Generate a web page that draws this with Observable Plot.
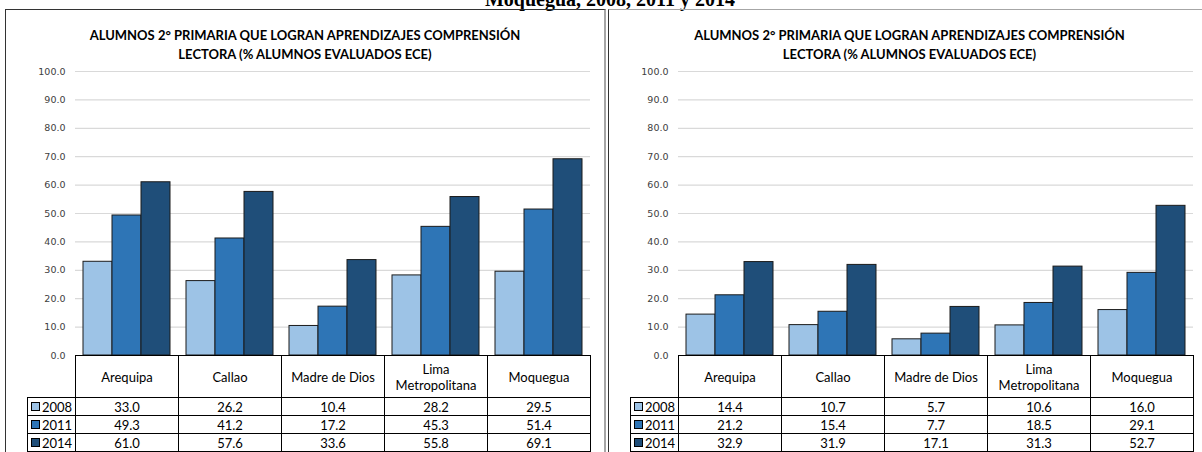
<!DOCTYPE html>
<html><head><meta charset="utf-8">
<script src="https://cdn.jsdelivr.net/npm/d3@7"></script>
<script src="https://cdn.jsdelivr.net/npm/@observablehq/plot@0.6"></script>
<style>
html,body{margin:0;padding:0;background:#fff;}
#root{position:relative;width:1202px;height:452px;overflow:hidden;background:#fff;}
.maintitle{position:absolute;left:0;width:1220px;top:-12px;line-height:20px;text-align:center;font:bold 20px "Liberation Serif",serif;color:#000;white-space:nowrap;}
.panel{position:absolute;top:9px;height:470px;box-sizing:border-box;}
.ptitle{position:absolute;left:0;right:0;top:16px;text-align:center;font:bold 13px Lato,sans-serif;line-height:19px;color:#000;}
.cell{position:absolute;box-sizing:border-box;border:1px solid #000;font:13px Lato,sans-serif;color:#000;display:flex;align-items:center;justify-content:center;text-align:center;white-space:pre-line;line-height:16px;background:#fff;}
.leg{justify-content:flex-start;padding-left:3px;}
.sw{display:inline-block;width:9px;height:9px;box-sizing:border-box;border:1px solid #000;margin-right:2px;}
.chart{position:absolute;}
</style></head>
<body><div id="root">
<div class="maintitle" id="mt"></div>
</div>
<script>
const categories = ["Arequipa", "Callao", "Madre de Dios", "Lima Metropolitana", "Moquegua"];
const categoryLabels = ["Arequipa", "Callao", "Madre de Dios", "Lima\nMetropolitana", "Moquegua"];
const years = ["2008", "2011", "2014"];
const colors = ["#9dc3e6", "#2e75b6", "#1f4e79"];
const yTicks = [0, 10, 20, 30, 40, 50, 60, 70, 80, 90, 100];
const titleLines = ["ALUMNOS 2° PRIMARIA QUE LOGRAN APRENDIZAJES COMPRENSIÓN", "LECTORA (% ALUMNOS EVALUADOS ECE)"];
const mainTitle = "Moquegua, 2008, 2011 y 2014";

// left panel
const left2008 = [33.0, 26.2, 10.4, 28.2, 29.5];
const left2011 = [49.3, 41.2, 17.2, 45.3, 51.4];
const left2014 = [61.0, 57.6, 33.6, 55.8, 69.1];
// right panel
const right2008 = [14.4, 10.7, 5.7, 10.6, 16.0];
const right2011 = [21.2, 15.4, 7.7, 18.5, 29.1];
const right2014 = [32.9, 31.9, 17.1, 31.3, 52.7];

const root = document.getElementById("root");
document.getElementById("mt").textContent = mainTitle;
const fmt = d3.format(".1f");

function addPanel(cfg) {
  const p = document.createElement("div");
  p.className = "panel";
  Object.assign(p.style, cfg.panelStyle);
  const t = document.createElement("div");
  t.className = "ptitle";
  t.innerHTML = titleLines.join("<br>");
  p.appendChild(t);
  root.appendChild(p);

  const series = [cfg.v2008, cfg.v2011, cfg.v2014];
  const rows = [];
  years.forEach((yr, i) => categories.forEach((c, j) => rows.push({cat: c, year: yr, value: series[i][j]})));

  const chart = Plot.plot({
    width: cfg.width,
    height: 305,
    marginTop: 11,
    marginBottom: 10,
    marginLeft: cfg.marginLeft,
    marginRight: cfg.marginRight,
    style: {fontFamily: "'DejaVu Sans', sans-serif", fontSize: "9.5px", color: "#404040", background: "transparent", overflow: "visible"},
    facet: {data: rows, x: "cat"},
    fx: {domain: categories, padding: 0, axis: null, label: null},
    x: {domain: years, paddingInner: 0, paddingOuter: 0.25, axis: null},
    y: {domain: [0, 100], ticks: yTicks, tickFormat: fmt, tickSize: 0, tickPadding: 10, label: null},
    color: {domain: years, range: colors},
    marks: [
      Plot.ruleY(yTicks.slice(1), {stroke: "#d9d9d9", strokeWidth: 1.2}),
      Plot.barY(rows, {x: "year", y: "value", fill: "year", stroke: "#1b1b1b", strokeWidth: 1})
    ]
  });
  chart.classList.add("chart");
  chart.style.left = cfg.left + "px";
  chart.style.top = "60px";
  root.appendChild(chart);

  const fx = chart.scale("fx");
  const y = chart.scale("y");
  const bw = fx.bandwidth;
  const top0 = 60 + y.apply(0);
  const headH = 42, rowH = 18, legW = 48;
  const x0 = cfg.left + fx.apply(categories[0]);
  function cell(x, yy, w, h, html, cls) {
    const d = document.createElement("div");
    d.className = "cell" + (cls ? " " + cls : "");
    d.style.left = Math.round(x) + "px";
    d.style.top = Math.round(yy) + "px";
    d.style.width = (Math.round(x + w) - Math.round(x) + 1) + "px";
    d.style.height = (h + 1) + "px";
    d.innerHTML = html;
    root.appendChild(d);
  }
  categories.forEach((c, j) => cell(cfg.left + fx.apply(c), top0, bw, headH, categoryLabels[j]));
  years.forEach((yr, i) => {
    const yy = top0 + headH + i * rowH;
    cell(x0 - legW, yy, legW, rowH, `<span class="sw" style="background:${colors[i]}"></span>${yr}`, "leg");
    categories.forEach((c, j) => cell(cfg.left + fx.apply(c), yy, bw, rowH, fmt(series[i][j])));
  });
}

addPanel({
  v2008: left2008, v2011: left2011, v2014: left2014,
  left: 0, width: 605, marginLeft: 73, marginRight: 13,
  panelStyle: {left: "5px", width: "601px", borderTop: "1px solid #333", borderLeft: "1px solid #333", borderRight: "2px solid #a6a6a6"}
});
addPanel({
  v2008: right2008, v2011: right2011, v2014: right2014,
  left: 605, width: 597, marginLeft: 71, marginRight: 8,
  panelStyle: {left: "608px", width: "602px", borderTop: "1px solid #a6a6a6", borderLeft: "1px solid #333"}
});
</script>
</body></html>
